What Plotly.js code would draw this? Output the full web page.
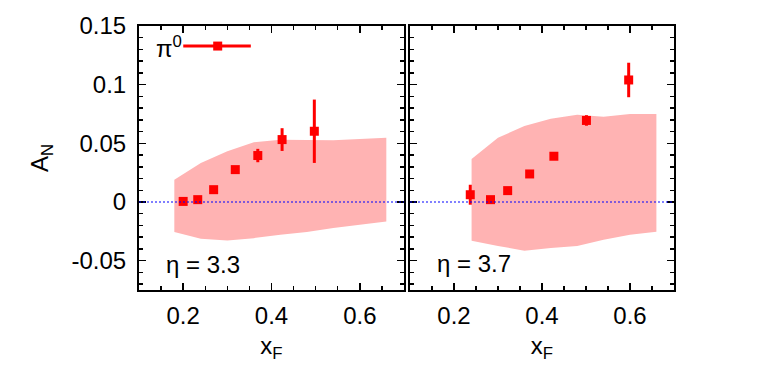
<!DOCTYPE html>
<html>
<head>
<meta charset="utf-8">
<script src="https://cdn.plot.ly/plotly-3.0.1.min.js"></script>
<style>
  html, body { margin: 0; padding: 0; background: #fff; }
  #grafica { width: 763px; height: 369px; }
</style>
</head>
<body>
<div id="grafica"></div>
<script>
// eta = 3.3 (left panel)
const xf33 = [0.200, 0.233, 0.269, 0.318, 0.369, 0.424, 0.497];
const an33 = [0.0005, 0.002, 0.0105, 0.0276, 0.0396, 0.0532, 0.0603];
const err33 = [0.002, 0.002, 0.002, 0.002, 0.0057, 0.0097, 0.027];

const bandX33 = [0.18, 0.24, 0.30, 0.36, 0.42, 0.48, 0.54, 0.66];
const bandHi33 = [0.019, 0.0333, 0.0433, 0.051, 0.053, 0.053, 0.0526, 0.0547];
const bandLo33 = [-0.0256, -0.0314, -0.0328, -0.0308, -0.028, -0.0256, -0.0222, -0.0166];

// eta = 3.7 (right panel)
const xf37 = [0.237, 0.283, 0.322, 0.372, 0.427, 0.501, 0.597];
const an37 = [0.0062, 0.002, 0.0097, 0.0239, 0.039, 0.0695, 0.104];
const err37 = [0.0085, 0.002, 0.002, 0.002, 0.002, 0.0045, 0.0147];

const bandX37 = [0.24, 0.30, 0.36, 0.42, 0.48, 0.54, 0.60, 0.66];
const bandHi37 = [0.0367, 0.0547, 0.0647, 0.071, 0.0744, 0.0727, 0.075, 0.075];
const bandLo37 = [-0.0331, -0.0374, -0.0416, -0.0393, -0.0374, -0.0322, -0.028, -0.0254];

const xTickVals = [0.2, 0.4, 0.6];
const xTickText = ['0.2', '0.4', '0.6'];
const yTickVals = [-0.05, 0, 0.05, 0.1, 0.15];
const yTickText = ['-0.05', '0', '0.05', '0.1', '0.15'];

const rojo = '#ff0000';
const rosa = '#ffb3b3';
const fuente = 'Liberation Sans, Arial, sans-serif';
const tam = 24;

function banda(xs, hi, lo, xa, ya) {
  // closed polygon: upper edge forward, lower edge back
  return {
    x: xs.concat(xs.slice().reverse()),
    y: hi.concat(lo.slice().reverse()),
    xaxis: xa, yaxis: ya,
    type: 'scatter', mode: 'lines',
    fill: 'toself', fillcolor: rosa,
    line: { width: 0, color: rosa },
    hoverinfo: 'skip', showlegend: false
  };
}

function puntos(xs, ys, errs, xa, ya) {
  return {
    x: xs, y: ys, xaxis: xa, yaxis: ya,
    type: 'scatter', mode: 'markers',
    marker: { symbol: 'square', size: 9, color: rojo },
    error_y: { type: 'data', array: errs, visible: true, color: rojo, thickness: 3, width: 0 },
    showlegend: false
  };
}

const data = [
  banda(bandX33, bandHi33, bandLo33, 'x', 'y'),
  banda(bandX37, bandHi37, bandLo37, 'x2', 'y2'),
  puntos(xf33, an33, err33, 'x', 'y'),
  puntos(xf37, an37, err37, 'x2', 'y2')
];

function ejeX(dominio, ancla) {
  return {
    domain: dominio, anchor: ancla, range: [0.1, 0.7],
    tickvals: xTickVals, ticktext: xTickText,
    ticks: 'inside', ticklen: 7, tickwidth: 1.5, tickcolor: '#000',
    minor: { ticks: 'inside', dtick: 0.05, tick0: 0, ticklen: 4, tickwidth: 1.5, tickcolor: '#000' },
    showline: true, linewidth: 2, linecolor: '#000', mirror: 'ticks',
    showgrid: false, zeroline: false,
    ticklabelstandoff: 3,
    tickfont: { size: tam, family: fuente, color: '#000' },
    title: { text: 'x<sub>F</sub>', font: { size: tam, family: fuente, color: '#000' }, standoff: 9 }
  };
}

function ejeY(ancla, etiquetas) {
  return {
    domain: [0, 1], anchor: ancla, range: [-0.075, 0.15],
    tickvals: yTickVals, ticktext: yTickText, showticklabels: etiquetas,
    ticks: 'inside', ticklen: 7, tickwidth: 1.5, tickcolor: '#000',
    minor: { ticks: 'inside', dtick: 0.01, tick0: 0, ticklen: 4, tickwidth: 1.5, tickcolor: '#000' },
    showline: true, linewidth: 2, linecolor: '#000', mirror: 'ticks',
    showgrid: false, zeroline: false,
    ticklabelstandoff: 6,
    tickfont: { size: tam, family: fuente, color: '#000' },
    title: etiquetas ? { text: 'A<sub>N</sub>', font: { size: tam, family: fuente, color: '#000' }, standoff: 16 } : { text: '' }
  };
}

const lineaCero = (xr, yr) => ({
  type: 'line', xref: xr + ' domain', yref: yr, x0: 0, x1: 1, y0: 0, y1: 0,
  line: { color: '#0000ff', width: 1.2, dash: '2px,2px' }, layer: 'above'
});

const layout = {
  width: 763, height: 369,
  margin: { l: 139, r: 89, t: 26, b: 79 },
  paper_bgcolor: '#fff', plot_bgcolor: 'rgba(0,0,0,0)',
  font: { family: fuente, color: '#000' },
  showlegend: false,
  xaxis: ejeX([0, 0.4953], 'y'),
  xaxis2: ejeX([0.5065, 1], 'y2'),
  yaxis: ejeY('x', true),
  yaxis2: ejeY('x2', false),
  shapes: [
    lineaCero('x', 'y'),
    lineaCero('x2', 'y2'),
    // key for pi0
    { type: 'line', xref: 'x domain', yref: 'y domain', x0: 0.167, x1: 0.422, y0: 0.924, y1: 0.924,
      line: { color: rojo, width: 3 } },
    { type: 'rect', xref: 'x domain', yref: 'y domain', x0: 0.28, x1: 0.314, y0: 0.907, y1: 0.941,
      fillcolor: rojo, line: { width: 0 } }
  ],
  annotations: [
    { text: '&#960;<sup>0</sup>', xref: 'x domain', yref: 'y domain', x: 0.055, y: 0.92,
      xanchor: 'left', yanchor: 'middle', showarrow: false, font: { size: tam, family: fuente, color: '#000' } },
    { text: '&#951; = 3.3', xref: 'x domain', yref: 'y domain', x: 0.095, y: 0.095,
      xanchor: 'left', yanchor: 'middle', showarrow: false, font: { size: tam, family: fuente, color: '#000' } },
    { text: '&#951; = 3.7', xref: 'x2 domain', yref: 'y2 domain', x: 0.095, y: 0.1,
      xanchor: 'left', yanchor: 'middle', showarrow: false, font: { size: tam, family: fuente, color: '#000' } }
  ]
};

Plotly.newPlot('grafica', data, layout, { staticPlot: true });
</script>
</body>
</html>
